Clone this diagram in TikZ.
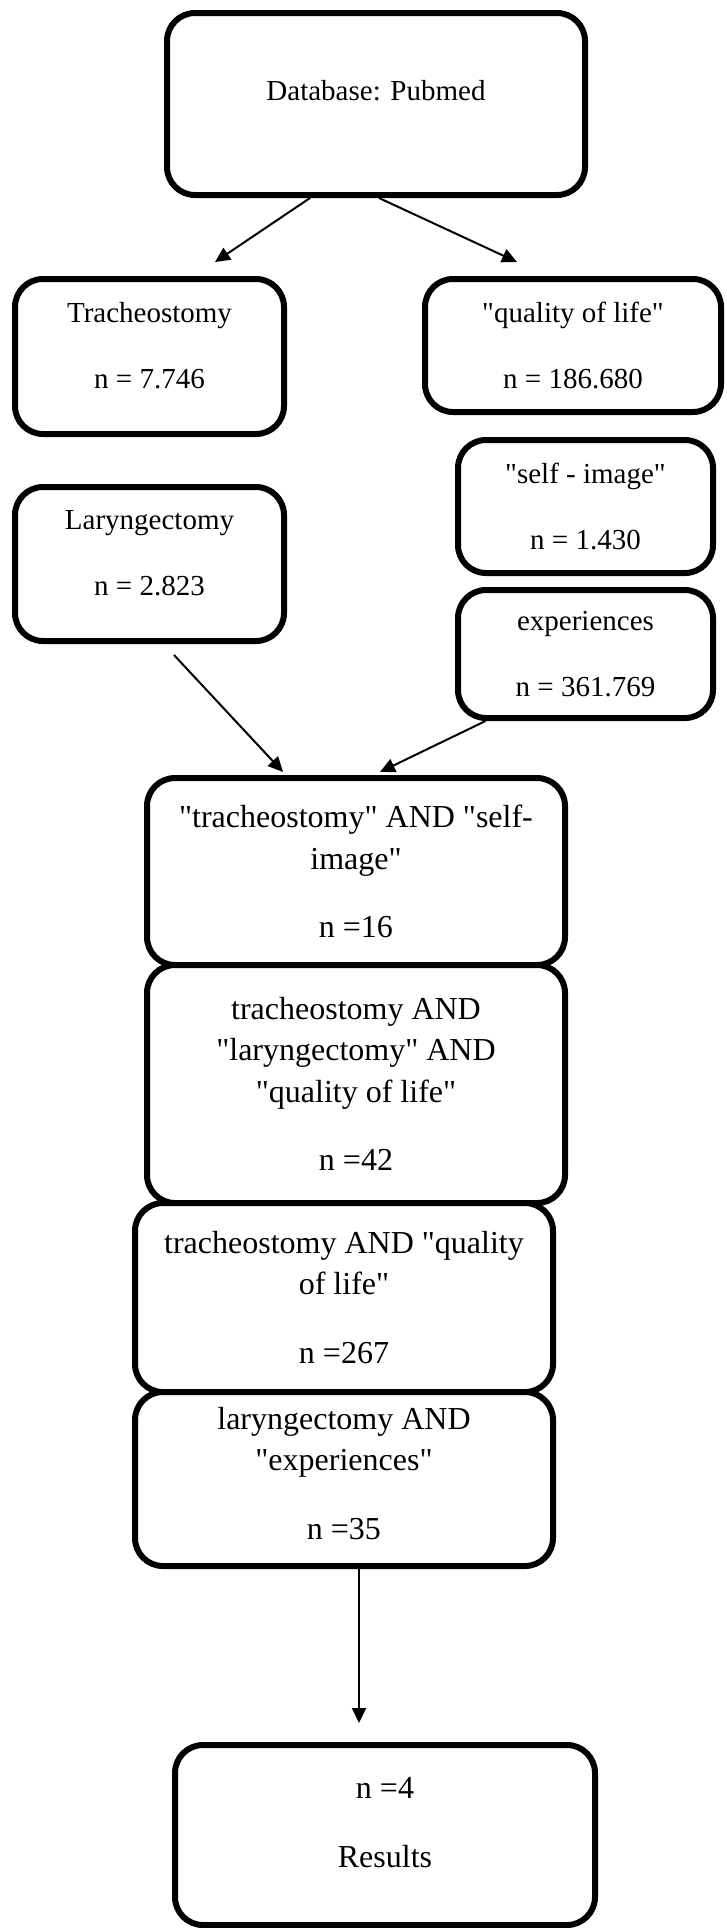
\documentclass[tikz,border=0pt]{standalone}
\usepackage{fontspec}
\setmainfont{Liberation Serif}[Ligatures=TeXOff]
\usetikzlibrary{arrows.meta}
\newcommand{\dropby}[1]{\rule[-#1]{0pt}{#1}}

\begin{document}
\begin{tikzpicture}[x=1pt,y=-1pt,
	 box/.style={draw,line width=6pt,rounded corners=28pt,fill=white,inner sep=0pt,align=center},
	 smallbox/.style={box,font=\fontsize{29}{33}\selectfont},
	 bigbox/.style={box,font=\fontsize{32}{41.5}\selectfont},
	 arr/.style={line width=2pt,-{Triangle[length=15pt,width=14pt]}}]
	 % Rahmen des Bildes:
	 \useasboundingbox (0,0) rectangle (726,1928);
	 % Datenbank oben:
	 \node[smallbox,minimum width=418pt,minimum height=182pt] (db) at (376,104) {Database: Pubmed\dropby{28pt}};
	 % linke Spalte:
	 \node[smallbox,minimum width=269pt,minimum height=155pt] (trach) at (149.5,356.5) {Tracheostomy\\[33pt]n = 7.746\dropby{22pt}};
	 \node[smallbox,minimum width=269pt,minimum height=154pt] (laryn) at (149.5,564) {Laryngectomy\\[33pt]n = 2.823\dropby{23pt}};
	 % rechte Spalte:
	 \node[smallbox,minimum width=296pt,minimum height=133pt] (qol) at (573,345.5) {"quality of life"\\[33pt]n = 186.680};
	 \node[smallbox,minimum width=255pt,minimum height=133pt] (selfimg) at (585.5,506.5) {"self - image"\\[33pt]n = 1.430};
	 \node[smallbox,minimum width=255pt,minimum height=128pt] (exper) at (585.5,654) {experiences\\[33pt]n = 361.769};
	 % Suchkombinationen untereinander:
	 \node[bigbox,minimum width=418pt,minimum height=187pt] (srch1) at (356,871.5) {"tracheostomy" AND "self-\\image"\\[27pt]n =16};
	 \node[bigbox,minimum width=418pt,minimum height=238pt] (srch2) at (356,1084) {tracheostomy AND\\"laryngectomy" AND\\"quality of life"\\[27pt]n =42};
	 \node[bigbox,minimum width=418pt,minimum height=189pt] (srch3) at (344,1297.5) {tracheostomy AND "quality\\of life"\\[27pt]n =267};
	 \node[bigbox,minimum width=418pt,minimum height=174pt] (srch4) at (344,1479) {laryngectomy AND\\"experiences"\\[27pt]n =35\dropby{12pt}};
	 % Ergebnis unten:
	 \node[bigbox,minimum width=420pt,minimum height=180pt] (res) at (385,1835) {n =4\\[27.5pt]Results\dropby{26pt}};
	 % freie Enden der Pfeile:
	 \coordinate (tipT) at (215,262);
	 \coordinate (tipQ) at (517,262);
	 \coordinate (tailL) at (174,655);
	 \coordinate (tipR) at (359,1723);
	 % Pfeile:
	 \draw[arr] ([xshift=-66pt]db.south) -- (tipT);
	 \draw[arr] ([xshift=3pt]db.south) -- (tipQ);
	 \draw[arr] (tailL) -- ([xshift=-73pt,yshift=3pt]srch1.north);
	 \draw[arr] ([xshift=-100pt]exper.south) -- ([xshift=24pt,yshift=3pt]srch1.north);
	 \draw[arr] ([xshift=15pt]srch4.south) -- (tipR);
\end{tikzpicture}
\end{document}
